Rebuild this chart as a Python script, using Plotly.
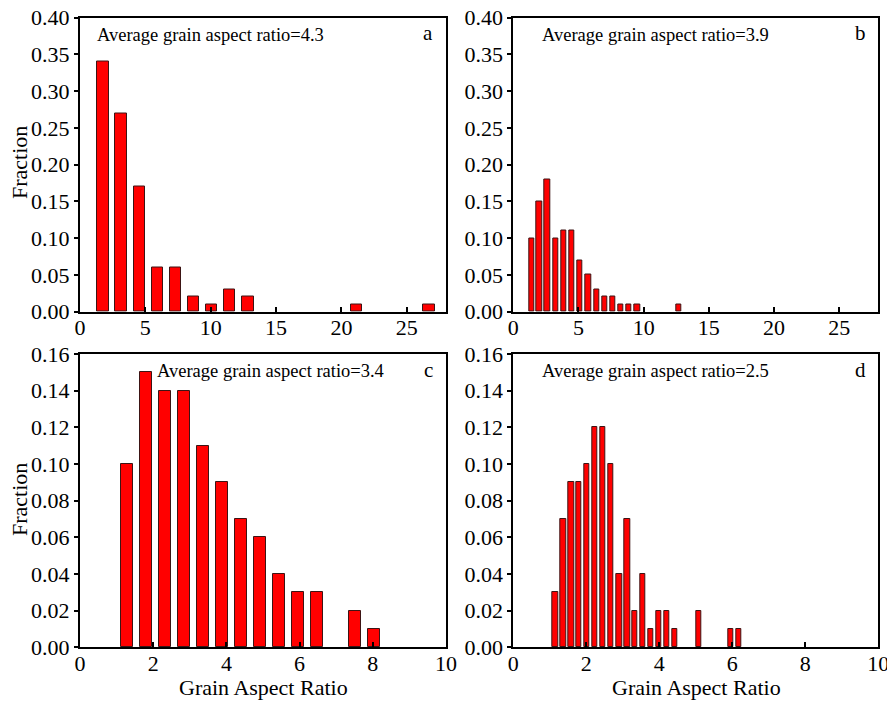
import plotly.graph_objects as go

# Grain aspect ratio distributions for four samples (bin centre -> fraction)
a_centres = [1.76, 3.15, 4.53, 5.92, 7.30, 8.69, 10.07, 11.46, 12.84, 21.15, 26.70]
a_fraction = [0.34, 0.27, 0.17, 0.06, 0.06, 0.02, 0.01, 0.03, 0.02, 0.01, 0.01]

b_centres = [1.41, 2.00, 2.62, 3.25, 3.88, 4.50, 5.12, 5.75, 6.38, 7.00, 7.62,
             8.25, 8.88, 9.50, 12.68]
b_fraction = [0.10, 0.15, 0.18, 0.10, 0.11, 0.11, 0.07, 0.05, 0.03, 0.02, 0.02,
              0.01, 0.01, 0.01, 0.01]

c_centres = [1.29, 1.81, 2.33, 2.85, 3.37, 3.88, 4.40, 4.92, 5.44, 5.96, 6.48,
             7.51, 8.03]
c_fraction = [0.10, 0.15, 0.14, 0.14, 0.11, 0.09, 0.07, 0.06, 0.04, 0.03, 0.03,
              0.02, 0.01]

d_centres = [1.15, 1.37, 1.59, 1.80, 2.02, 2.24, 2.46, 2.68, 2.90, 3.12, 3.33,
             3.55, 3.77, 3.99, 4.21, 4.43, 5.08, 5.96, 6.18]
d_fraction = [0.03, 0.07, 0.09, 0.09, 0.10, 0.12, 0.12, 0.10, 0.04, 0.07, 0.02,
              0.04, 0.01, 0.02, 0.02, 0.01, 0.02, 0.01, 0.01]

averages = ["4.3", "3.9", "3.4", "2.5"]
letters = ["a", "b", "c", "d"]
x_ticks_wide = [0, 5, 10, 15, 20, 25]
x_ticks_narrow = [0, 2, 4, 6, 8, 10]

W, H = 887, 703
FONT = "Liberation Serif"

panels = [
    dict(x=a_centres, y=a_fraction, width=0.87, xr=[0, 28], xt=x_ticks_wide,
         yr=[0, 0.40], dy=0.05, px=(80, 446), py=(17.5, 311.7), ann_x=0.04),
    dict(x=b_centres, y=b_fraction, width=0.41, xr=[0, 28], xt=x_ticks_wide,
         yr=[0, 0.40], dy=0.05, px=(513.3, 878.3), py=(17.5, 311.7), ann_x=0.072),
    dict(x=c_centres, y=c_fraction, width=0.32, xr=[0, 10], xt=x_ticks_narrow,
         yr=[0, 0.16], dy=0.02, px=(80, 446), py=(354, 647.3), ann_x=0.204),
    dict(x=d_centres, y=d_fraction, width=0.146, xr=[0, 10], xt=x_ticks_narrow,
         yr=[0, 0.16], dy=0.02, px=(513.3, 878.3), py=(354, 647.3), ann_x=0.072),
]

fig = go.Figure()
annotations = []
for i, p in enumerate(panels):
    n = "" if i == 0 else str(i + 1)
    xa, ya = "x" + n, "y" + n
    fig.add_trace(go.Bar(
        x=p["x"], y=p["y"], width=p["width"], xaxis=xa, yaxis=ya,
        marker=dict(color="#ff0000", line=dict(color="rgb(60,20,20)", width=1)),
        showlegend=False,
    ))
    xdom = [p["px"][0] / W, p["px"][1] / W]
    ydom = [1 - p["py"][1] / H, 1 - p["py"][0] / H]
    fig.update_layout(**{
        "xaxis" + n: dict(
            domain=xdom, range=p["xr"], tickvals=p["xt"], anchor=ya,
            showline=True, linecolor="black", linewidth=2, mirror=True,
            ticks="inside", ticklen=5, tickwidth=2, tickcolor="black",
            showgrid=False, zeroline=False, automargin=False,
            ticklabelstandoff=-5, ticklabeloverflow="allow",
            tickfont=dict(family=FONT, size=22, color="black"),
        ),
        "yaxis" + n: dict(
            domain=ydom, range=p["yr"], dtick=p["dy"], tickformat=".2f",
            anchor=xa, showline=True, linecolor="black", linewidth=2,
            mirror=True, ticks="outside", ticklen=4, tickwidth=2,
            tickcolor="black", showgrid=False, zeroline=False, automargin=False,
            ticklabeloverflow="allow",
            tickfont=dict(family=FONT, size=22, color="black"),
        ),
    })
    annotations.append(dict(
        text="Average grain aspect ratio=" + averages[i],
        xref=xa + " domain", yref=ya + " domain", x=p["ann_x"], y=0.942,
        xanchor="left", yanchor="middle", showarrow=False,
        font=dict(family=FONT, size=18.5, color="black"),
    ))
    annotations.append(dict(
        text=letters[i], xref=xa + " domain", yref=ya + " domain",
        x=0.951, y=0.946, xanchor="center", yanchor="middle", showarrow=False,
        font=dict(family=FONT, size=21, color="black"),
    ))

# Axis titles
for yc in (163, 500):
    annotations.append(dict(
        text="Fraction", xref="paper", yref="paper", x=19 / W, y=1 - yc / H,
        xanchor="center", yanchor="middle", textangle=-90, showarrow=False,
        font=dict(family=FONT, size=22, color="black"),
    ))
for xc in (263, 696):
    annotations.append(dict(
        text="Grain Aspect Ratio", xref="paper", yref="paper", x=xc / W,
        y=1 - 687 / H, xanchor="center", yanchor="middle", showarrow=False,
        font=dict(family=FONT, size=22, color="black"),
    ))

fig.update_layout(
    width=W, height=H, margin=dict(l=0, r=0, t=0, b=0),
    paper_bgcolor="white", plot_bgcolor="white",
    annotations=annotations, bargap=0,
)

fig.write_html("out.html")
